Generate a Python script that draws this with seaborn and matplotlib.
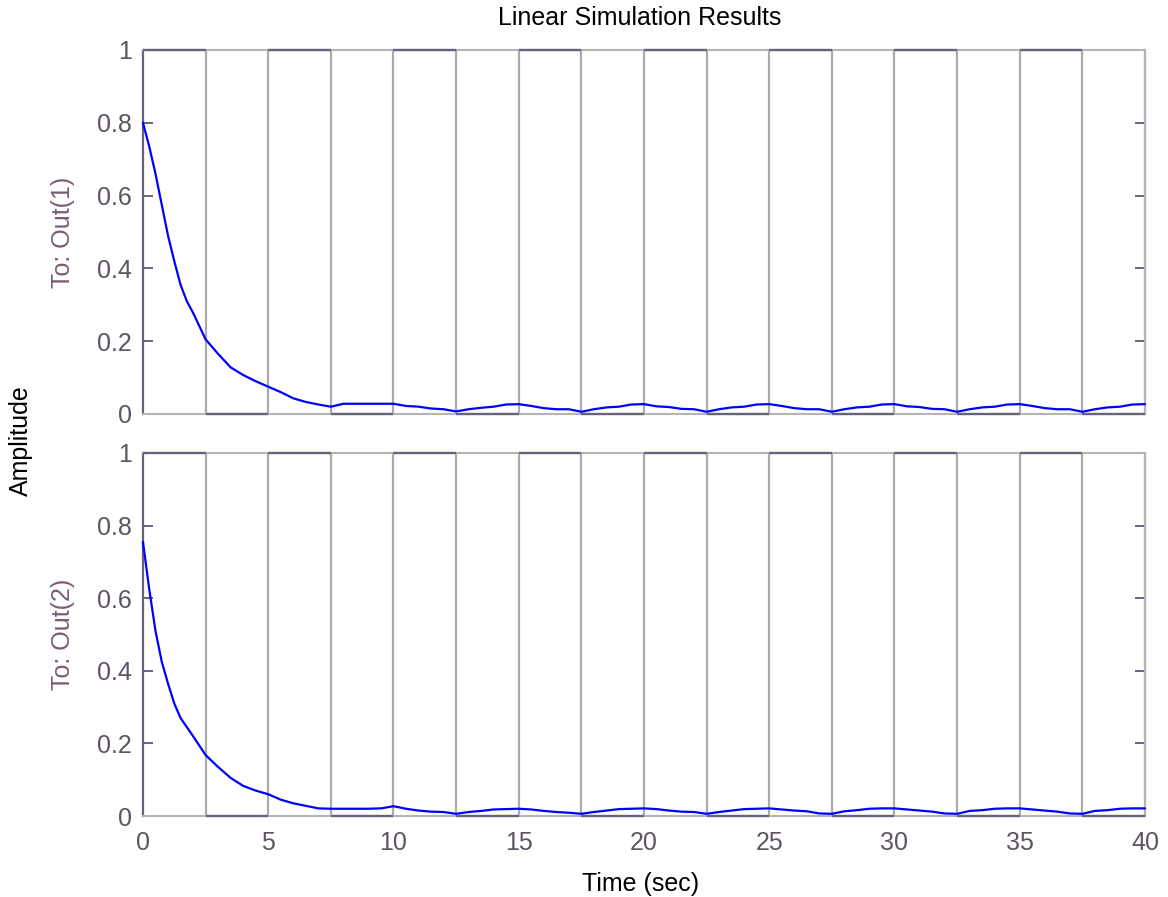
import pandas as pd
import seaborn as sns
import matplotlib.pyplot as plt

# input square wave: switching times and levels (steps-post)
input_t = [0, 2.5, 5, 7.5, 10, 12.5, 15, 17.5, 20, 22.5, 25, 27.5, 30, 32.5, 35, 37.5, 40]
input_u = [1, 0, 1, 0, 1, 0, 1, 0, 1, 0, 1, 0, 1, 0, 1, 0, 1]

# output samples
time = [0, 0.25, 0.5, 0.75, 1, 1.25, 1.5, 1.75, 2, 2.5, 3, 3.5, 4, 4.5, 5, 5.5, 6, 6.5,
        7, 7.5, 8, 8.5, 9, 9.5, 10, 10.5, 11, 11.5, 12, 12.5, 13, 13.5, 14, 14.5, 15,
        15.5, 16, 16.5, 17, 17.5, 18, 18.5, 19, 19.5, 20, 20.5, 21, 21.5, 22, 22.5, 23,
        23.5, 24, 24.5, 25, 25.5, 26, 26.5, 27, 27.5, 28, 28.5, 29, 29.5, 30, 30.5, 31,
        31.5, 32, 32.5, 33, 33.5, 34, 34.5, 35, 35.5, 36, 36.5, 37, 37.5, 38, 38.5, 39,
        39.5, 40]
out1 = [.800, .735, .660, .575, .490, .420, .355, .310, .278, .205, .165, .128, .107, .090,
        .075, .060, .043, .033, .026, .020, .028, .028, .028, .028, .028, .022, .020, .015,
        .013, .007, .013, .017, .020, .026, .027, .022, .016, .013, .013, .006, .013, .018,
        .020, .026, .027, .021, .019, .014, .013, .006, .013, .018, .020, .026, .027, .022,
        .016, .013, .013, .006, .013, .018, .020, .026, .027, .021, .019, .014, .013, .006,
        .013, .018, .020, .026, .027, .022, .016, .013, .013, .006, .013, .018, .020, .026,
        .027]
out2 = [.755, .625, .510, .425, .365, .310, .270, .245, .220, .168, .135, .105, .083, .070,
        .060, .045, .035, .028, .021, .020, .020, .020, .020, .021, .027, .020, .015, .012,
        .011, .006, .011, .014, .018, .019, .020, .018, .014, .011, .009, .006, .011, .015,
        .019, .020, .021, .019, .015, .012, .011, .006, .011, .015, .019, .020, .021, .018,
        .015, .013, .007, .006, .013, .016, .020, .021, .021, .018, .015, .012, .007, .006,
        .014, .016, .020, .021, .021, .018, .015, .012, .007, .006, .014, .016, .020, .021,
        .021]

y_ticks = [0, 0.2, 0.4, 0.6, 0.8, 1]
y_labels = ['0', '0.2', '0.4', '0.6', '0.8', '1']
x_ticks = [0, 5, 10, 15, 20, 25, 30, 35, 40]

sns.set_style('white')
plt.rcParams['font.family'] = ['Liberation Sans', 'DejaVu Sans']

light = '#ababab'
dark = '#64647c'
tick_col = '#5e5462'
lab_col = '#7a5c76'

inp = pd.DataFrame({'t': input_t, 'u': input_u})
outs = [pd.DataFrame({'t': time, 'y': out1}), pd.DataFrame({'t': time, 'y': out2})]

fig = plt.figure(figsize=(11.68, 8.97), dpi=100)
ax1 = fig.add_axes([0.1224, 0.5385, 0.8579, 0.4058])
ax2 = fig.add_axes([0.1224, 0.0903, 0.8579, 0.4047])

for i, ax in enumerate([ax1, ax2]):
    sns.lineplot(data=inp, x='t', y='u', ax=ax, color=light, lw=1.6,
                 drawstyle='steps-post', clip_on=False, zorder=2)
    # level segments sit on the frame and look darker there
    ax.hlines(input_u[:-1], input_t[:-1], input_t[1:], color=dark, lw=1.6,
              zorder=3, clip_on=False)
    sns.lineplot(data=outs[i], x='t', y='y', ax=ax, color='#0000ff', lw=1.6,
                 zorder=4, clip_on=False)

    ax.set_xlim(0, 40)
    ax.set_ylim(0, 1)
    ax.set_yticks(y_ticks)
    ax.set_yticklabels(y_labels)
    ax.set_xticks(x_ticks)
    ax.set_xticklabels([str(v) for v in x_ticks])
    ax.set_xlabel('')
    ax.set_ylabel('')
    for side in ['top', 'bottom', 'right']:
        ax.spines[side].set_color('#b4b4b4')
        ax.spines[side].set_linewidth(1.5)
    ax.spines['left'].set_color(dark)
    ax.spines['left'].set_linewidth(1.6)
    ax.tick_params(axis='y', direction='in', length=7.2, width=1.4, color=dark,
                   left=True, right=True, labelsize=18, labelcolor=tick_col, pad=8)
    ax.tick_params(axis='x', direction='in', length=0, labelsize=18,
                   labelcolor=tick_col, pad=11, bottom=True)
    ax.text(-0.08, 0.5, 'To: Out(%d)' % (i + 1), transform=ax.transAxes, rotation=90,
            ha='center', va='center', fontsize=18, color=lab_col)

ax1.tick_params(axis='x', labelbottom=False)

fig.text(0.548, 1 - 18 / 897, 'Linear Simulation Results', ha='center', va='center',
         fontsize=18, color='black')
fig.text(21 / 1168, 1 - 441 / 897, 'Amplitude', ha='center', va='center', rotation=90,
         fontsize=18, color='black')
fig.text(0.548, 1 - 884 / 897, 'Time (sec)', ha='center', va='center', fontsize=18,
         color='black')

plt.savefig('out.png', dpi=100)
